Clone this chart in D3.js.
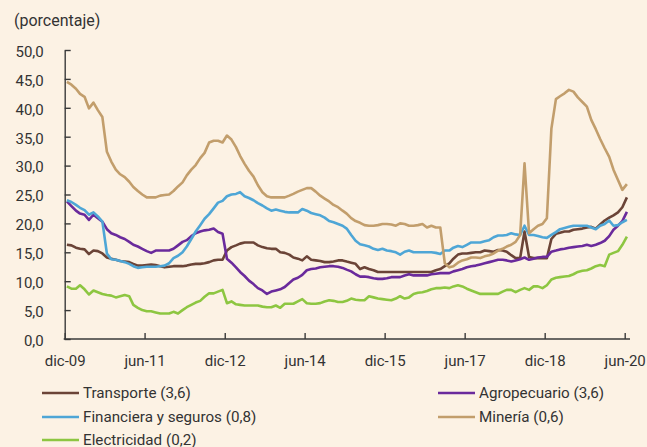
<!DOCTYPE html>
<html>
<head>
<meta charset="utf-8">
<title>porcentaje</title>
<script src="https://cdn.jsdelivr.net/npm/d3@7/dist/d3.min.js"></script>
<style>
  *{margin:0;padding:0;}
  body{background:#fcf2e4;}
  svg text{font-family:Roboto, "Noto Sans", sans-serif;fill:#333;}
</style>
</head>
<body>
<div id="show"></div>
<script>
// monthly series, dic-09 .. jun-20 (127 points)
var transporte = [
16.3,16.2,15.8,15.6,15.5,14.7,15.3,15.2,14.8,14.1,
13.9,13.7,13.5,13.4,13.3,13.0,12.7,12.7,12.8,12.9,
12.8,12.6,12.4,12.5,12.6,12.6,12.6,12.7,12.9,13.0,
13.0,13.1,13.3,13.6,13.7,13.7,15.3,15.9,16.2,16.5,
16.7,16.7,16.7,16.2,15.9,15.7,15.6,15.6,15.0,14.9,
14.6,14.1,13.9,13.6,14.3,13.7,13.6,13.5,13.3,13.3,
13.4,13.6,13.6,13.4,13.2,13.0,12.1,12.4,12.1,11.9,
11.6,11.6,11.6,11.6,11.6,11.6,11.6,11.6,11.6,11.6,
11.6,11.6,11.6,11.9,12.1,12.6,13.1,13.9,14.6,14.8,
14.8,14.9,15.0,15.0,15.3,15.2,15.1,15.4,15.3,15.1,
14.5,14.0,14.0,18.6,14.2,14.0,14.0,14.0,14.0,17.3,
18.2,18.4,18.6,18.6,18.9,19.0,19.1,19.3,19.4,19.1,
19.8,20.5,21.0,21.4,21.9,22.8,24.5];
var agropecuario = [
23.8,23.0,22.2,21.7,21.5,20.6,21.5,20.9,20.3,19.0,
18.3,18.0,17.6,17.3,16.8,16.3,16.0,15.6,15.2,14.9,
15.3,15.3,15.3,15.3,15.6,16.2,16.8,17.1,17.8,18.3,
18.6,18.8,18.9,19.1,18.5,18.2,13.9,13.2,12.4,11.6,
10.9,10.1,9.5,8.8,8.4,7.8,8.2,8.4,8.6,9.0,
9.7,10.3,10.6,11.1,11.9,12.1,12.2,12.4,12.5,12.6,
12.6,12.5,12.3,12.0,11.7,11.2,10.8,10.8,10.7,10.5,
10.4,10.4,10.5,10.7,10.7,10.7,11.0,11.2,11.0,11.0,
11.0,11.0,11.2,11.3,11.4,11.4,11.4,11.7,11.9,12.1,
12.4,12.6,12.7,12.9,13.1,13.3,13.5,13.7,13.7,13.6,
13.4,13.6,13.8,14.1,13.7,13.9,14.1,14.2,14.2,15.1,
15.3,15.5,15.6,15.8,15.9,16.0,16.1,16.3,16.1,16.3,
16.6,17.0,17.8,18.9,19.6,20.4,22.0];
var financiera = [
24.0,23.7,23.2,22.7,22.3,21.5,21.9,21.2,20.3,14.8,
13.8,13.7,13.5,13.3,13.0,12.6,12.3,12.4,12.5,12.5,
12.5,12.6,12.7,13.1,14.0,14.4,15.0,16.0,17.3,18.6,
19.7,20.8,21.6,22.6,23.6,23.9,24.7,25.0,25.1,25.4,
24.7,24.4,24.0,23.5,23.1,22.6,22.2,22.4,22.2,22.0,
21.9,21.9,21.9,22.5,22.2,21.8,21.6,21.4,21.0,20.4,
20.2,19.9,19.6,19.1,18.0,17.0,16.4,16.2,16.0,15.6,
15.4,15.6,15.3,15.2,15.0,14.6,15.1,15.3,15.0,15.0,
15.0,15.0,15.0,14.9,14.7,15.3,15.3,15.8,16.1,15.9,
16.3,16.7,16.7,16.7,16.9,17.1,17.6,17.9,17.9,18.0,
18.3,18.1,18.0,19.6,18.0,18.0,17.8,17.6,17.5,18.0,
18.5,19.0,19.2,19.4,19.6,19.6,19.6,19.6,19.3,19.0,
19.6,19.9,20.5,19.6,19.7,20.2,20.6];
var mineria = [
44.5,44.0,43.3,42.4,41.9,39.9,40.9,39.6,38.4,32.4,
30.7,29.3,28.5,28.0,27.2,26.3,25.6,25.0,24.5,24.5,
24.5,24.8,24.9,25.0,25.6,26.4,27.1,28.3,29.3,30.1,
31.3,32.2,34.0,34.3,34.3,34.0,35.2,34.5,33.2,31.7,
30.3,29.1,28.1,26.6,25.4,24.7,24.5,24.5,24.5,24.5,
24.8,25.1,25.5,25.8,26.1,26.1,25.5,24.8,24.3,23.8,
23.2,22.8,22.2,21.7,20.9,20.4,20.1,19.7,19.6,19.6,
19.7,19.9,19.9,19.8,19.6,20.0,19.9,19.6,19.6,19.7,
19.9,19.3,19.6,19.3,19.3,13.1,12.4,12.6,13.2,13.6,
13.8,14.1,14.1,14.0,14.3,14.5,14.8,15.3,15.6,16.0,
16.3,16.8,18.0,30.4,18.3,19.0,19.6,19.9,20.9,36.4,
41.5,42.0,42.5,43.1,42.8,41.8,41.0,40.2,37.9,36.3,
34.6,33.0,31.5,29.3,27.5,25.8,26.8];
var electricidad = [
9.1,8.7,8.7,9.3,8.6,7.7,8.4,8.1,7.8,7.6,
7.5,7.2,7.4,7.6,7.4,5.9,5.4,5.0,4.8,4.8,
4.6,4.4,4.4,4.4,4.7,4.4,5.0,5.5,5.9,6.3,
6.6,7.3,7.9,7.9,8.2,8.5,6.2,6.5,6.0,5.9,
5.8,5.8,5.8,5.8,5.6,5.5,5.5,5.8,5.4,6.1,
6.1,6.1,6.5,6.9,6.2,6.1,6.1,6.2,6.5,6.7,
6.6,6.4,6.4,6.6,7.0,6.8,6.7,6.7,7.4,7.2,
7.0,6.9,6.8,6.7,7.0,7.4,7.0,7.2,7.8,8.0,
8.1,8.3,8.6,8.8,8.8,8.9,8.8,9.1,9.3,9.1,
8.7,8.4,8.1,7.8,7.8,7.8,7.8,7.8,8.2,8.5,
8.5,8.1,8.5,8.8,8.5,9.1,9.1,8.8,9.3,10.3,
10.6,10.7,10.8,10.9,11.2,11.6,11.8,11.9,12.2,12.6,
12.8,12.6,14.6,14.9,15.2,16.3,17.7];

var seriesNames = ["Transporte (3,6)", "Agropecuario (3,6)", "Financiera y seguros (0,8)", "Minería (0,6)", "Electricidad (0,2)"];
var seriesColors = ["#6b4437", "#6a2a9c", "#4ea6d6", "#c29e6c", "#8dc641"];
var seriesValues = [transporte, agropecuario, financiera, mineria, electricidad];
var yTicks = [0, 5, 10, 15, 20, 25, 30, 35, 40, 45, 50];
var xTickLabels = ["dic-09", "jun-11", "dic-12", "jun-14", "dic-15", "jun-17", "dic-18", "jun-20"];

var W = 647, H = 447;
var start = new Date(2009, 11, 1);
var months = d3.range(transporte.length).map(function(i){ return d3.timeMonth.offset(start, i); });
var xTickDates = xTickLabels.map(function(d, i){ return d3.timeMonth.offset(start, i * 18); });

var svg = d3.select("#show").append("svg").attr("width", W).attr("height", H);

var x = d3.scaleTime().domain([start, xTickDates[xTickDates.length - 1]]).range([64.7, 624.7]);
var y = d3.scaleLinear().domain([0, 50]).range([339, 50]);

svg.append("text").attr("x", 14).attr("y", 26).style("font-size", "16px").text("(porcentaje)");

// y axis
var yAx = svg.append("g").attr("transform", "translate(" + x.range()[0] + ",0)")
  .call(d3.axisLeft(y).tickValues(yTicks).tickSize(-6).tickSizeOuter(0).tickPadding(21)
    .tickFormat(function(d){ return d.toFixed(1).replace(".", ","); }));
yAx.selectAll("text").style("font-size", "15px").attr("dy", "0.42em");

// x axis
var xAx = svg.append("g").attr("transform", "translate(0," + y(0) + ")")
  .call(d3.axisBottom(x).tickValues(xTickDates).tickSize(-6).tickSizeOuter(0).tickPadding(16)
    .tickFormat(function(d, i){ return xTickLabels[i]; }));
xAx.select(".domain").attr("d", "M" + (x.range()[0] - 1) + ",0H630");
xAx.selectAll("text").style("font-size", "15px");

svg.selectAll(".domain, .tick line").attr("stroke", "#3a3a3a").attr("stroke-width", 1.4);

// lines (points at mid-month)
var line = d3.line()
  .x(function(d, i){ return x(d3.timeDay.offset(months[i], 15)); })
  .y(function(d){ return y(d); });

var order = [4, 0, 1, 2, 3];
order.forEach(function(k){
  svg.append("path").datum(seriesValues[k])
    .attr("fill", "none")
    .attr("stroke", seriesColors[k])
    .attr("stroke-width", 2.6)
    .attr("stroke-linejoin", "round")
    .attr("d", line);
});

// legend
var legPos = [[42, 393], [438, 393], [42, 417], [438, 417], [42, 440]];
var leg = svg.selectAll(".leg").data(seriesNames).enter().append("g")
  .attr("class", "leg")
  .attr("transform", function(d, i){ return "translate(" + legPos[i][0] + "," + legPos[i][1] + ")"; });
leg.append("line").attr("x1", 0).attr("x2", 37).attr("y1", 0).attr("y2", 0)
  .attr("stroke", function(d, i){ return seriesColors[i]; }).attr("stroke-width", 2.6);
leg.append("text").attr("x", 41).attr("dy", "0.36em").style("font-size", "15.2px").text(function(d){ return d; });
</script>
</body>
</html>
